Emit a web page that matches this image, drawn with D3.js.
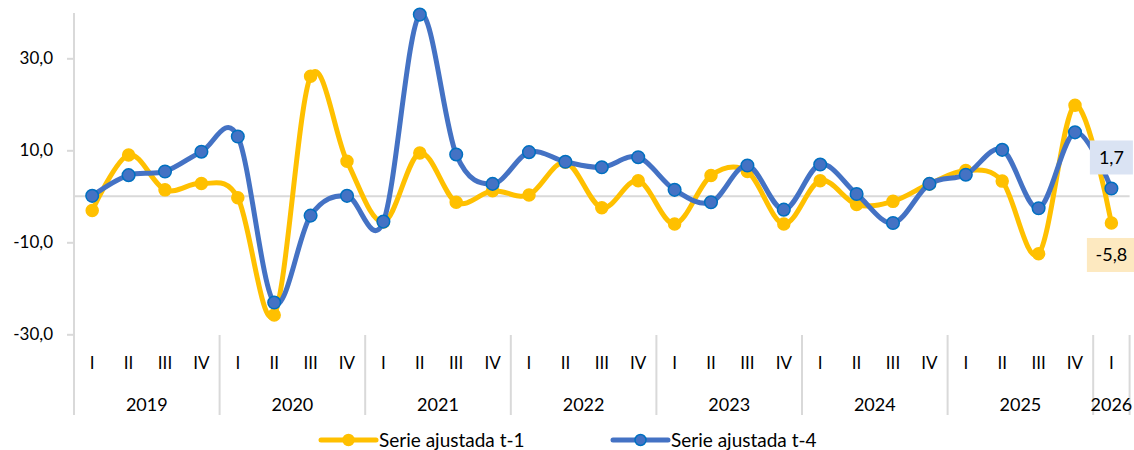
<!DOCTYPE html>
<html>
<head>
<meta charset="utf-8">
<script src="https://cdn.jsdelivr.net/npm/d3@7"></script>
<style>
  body { margin: 0; background: #fff; }
  svg text { font-family: Lato, "Open Sans", sans-serif; fill: #000; }
</style>
</head>
<body>
<div id="chart"></div>
<script>
// Years and how many quarters each one has on the axis
const years = ["2019", "2020", "2021", "2022", "2023", "2024", "2025", "2026"];
const quartersPerYear = [4, 4, 4, 4, 4, 4, 4, 1];
const quarterLabels = ["I", "II", "III", "IV"];

// Series values
const serieT1 = [-3.1, 9.0, 1.4, 2.8, -0.3, -25.8, 26.1, 7.6, -5.6, 9.4, -1.3, 1.2, 0.3, 7.4, -2.5, 3.4,
                 -6.0, 4.5, 5.4, -6.0, 3.4, -1.8, -1.1, 2.7, 5.6, 3.3, -12.5, 19.8, -5.8];
const serieT4 = [0.1, 4.6, 5.4, 9.7, 13.0, -23.1, -4.2, 0.1, -5.5, 39.5, 9.1, 2.7, 9.6, 7.5, 6.3, 8.5,
                 1.4, -1.3, 6.7, -2.9, 6.9, 0.5, -5.8, 2.7, 4.7, 10.1, -2.6, 13.9, 1.7];
const yTicks = [-30, -10, 10, 30];
const seriesNames = ["Serie ajustada t-1", "Serie ajustada t-4"];

const width = 1134, height = 450;
const svg = d3.select("#chart").append("svg")
    .attr("width", width)
    .attr("height", height);

// Build the flat list of categories
let categories = [];
years.forEach((year, i) => {
    for (let q = 0; q < quartersPerYear[i]; q++) {
        categories.push({ year: year, quarter: quarterLabels[q], index: categories.length });
    }
});

const x = d3.scaleBand()
    .domain(categories.map(c => c.index))
    .range([74, 1129.6]);
const cx = i => x(i) + x.bandwidth() / 2;

const y = d3.scaleLinear()
    .domain([-30, 40])
    .range([334.3, 12.3]);

const locale = d3.formatLocale({ decimal: ",", thousands: ".", grouping: [3], currency: ["", "€"], minus: "-" });
const fmt = locale.format(".1f");

const gray = "#d9d9d9";

// Y axis
const yAxis = svg.append("g")
    .attr("transform", "translate(74,0)")
    .call(d3.axisLeft(y).tickValues(yTicks).tickFormat(fmt).tickSizeInner(7).tickSizeOuter(0).tickPadding(14));
yAxis.select(".domain").remove();
yAxis.selectAll(".tick line").attr("stroke", gray).attr("stroke-width", 2);
yAxis.selectAll(".tick text").style("font-size", "17px").attr("font-family", null);

svg.append("line")
    .attr("x1", 74).attr("x2", 74)
    .attr("y1", 13).attr("y2", 415)
    .attr("stroke", gray).attr("stroke-width", 2);

// Category axis line at zero
svg.append("line")
    .attr("x1", 74).attr("x2", x.range()[1])
    .attr("y1", y(0)).attr("y2", y(0))
    .attr("stroke", gray).attr("stroke-width", 2);

// Year separators
let boundaries = [];
let start = 0;
quartersPerYear.forEach(n => { start += n; boundaries.push(start); });
svg.selectAll(".sep")
    .data(boundaries)
    .enter().append("line")
        .attr("x1", b => b < categories.length ? x(b) : x.range()[1])
        .attr("x2", b => b < categories.length ? x(b) : x.range()[1])
        .attr("y1", 335)
        .attr("y2", 415)
        .attr("stroke", gray)
        .attr("stroke-width", 2);

// Quarter labels
svg.selectAll(".qlabel")
    .data(categories)
    .enter().append("text")
        .attr("x", c => cx(c.index))
        .attr("y", 363)
        .attr("dy", "0.35em")
        .attr("text-anchor", "middle")
        .style("font-size", "17px")
        .text(c => c.quarter);

// Year labels
let firstIndex = 0;
const yearPos = years.map((year, i) => {
    const a = firstIndex, b = firstIndex + quartersPerYear[i];
    firstIndex = b;
    return { year: year, mid: (x(a) + (b < categories.length ? x(b) : x.range()[1])) / 2 };
});
svg.selectAll(".ylabel")
    .data(yearPos)
    .enter().append("text")
        .attr("x", d => d.mid)
        .attr("y", 405)
        .attr("dy", "0.35em")
        .attr("text-anchor", "middle")
        .style("font-size", "18px")
        .text(d => d.year);

// Lines
const line = d3.line()
    .x((d, i) => cx(i))
    .y(d => y(d))
    .curve(d3.curveCardinal.tension(0));

const styles = [
    { data: serieT1, color: "#ffc000", stroke: "#ffc000", r: 6 },
    { data: serieT4, color: "#4472c4", stroke: "#0070c0", r: 6.3 }
];

styles.forEach(s => {
    svg.append("path")
        .datum(s.data)
        .attr("fill", "none")
        .attr("stroke", s.color)
        .attr("stroke-width", 5)
        .attr("stroke-linejoin", "round")
        .attr("d", line);
    svg.append("g").selectAll("circle")
        .data(s.data)
        .enter().append("circle")
            .attr("cx", (d, i) => cx(i))
            .attr("cy", d => y(d))
            .attr("r", s.r)
            .attr("fill", s.color)
            .attr("stroke", s.stroke)
            .attr("stroke-width", 1.5);
});

// Data labels for the last point
const last = categories.length - 1;
const labels = [
    { value: serieT4[last], fill: "#dae3f3", dy: -31 },
    { value: serieT1[last], fill: "#fde9c0", dy: 32 }
];
labels.forEach(l => {
    const lx = cx(last), ly = y(l.value) + l.dy;
    const text = fmt(l.value);
    const w = text.length > 3 ? 49 : 43;
    svg.append("rect")
        .attr("x", lx - w / 2)
        .attr("y", ly - 17)
        .attr("width", w)
        .attr("height", 34)
        .attr("fill", l.fill);
    svg.append("text")
        .attr("x", lx)
        .attr("y", ly)
        .attr("dy", "0.35em")
        .attr("text-anchor", "middle")
        .style("font-size", "18px")
        .text(text);
});

// Legend
const legend = [
    { name: seriesNames[0], color: "#ffc000", stroke: "#ffc000", x: 321 },
    { name: seriesNames[1], color: "#4472c4", stroke: "#0070c0", x: 613 }
];
legend.forEach(l => {
    const g = svg.append("g").attr("transform", `translate(${l.x},440)`);
    g.append("line")
        .attr("x1", 0).attr("x2", 55)
        .attr("stroke", l.color).attr("stroke-width", 5).attr("stroke-linecap", "round");
    g.append("circle")
        .attr("cx", 27.5).attr("r", 5.5)
        .attr("fill", l.color).attr("stroke", l.stroke).attr("stroke-width", 1.5);
    g.append("text")
        .attr("x", 58)
        .attr("dy", "0.35em")
        .style("font-size", "19px")
        .text(l.name);
});
</script>
</body>
</html>
